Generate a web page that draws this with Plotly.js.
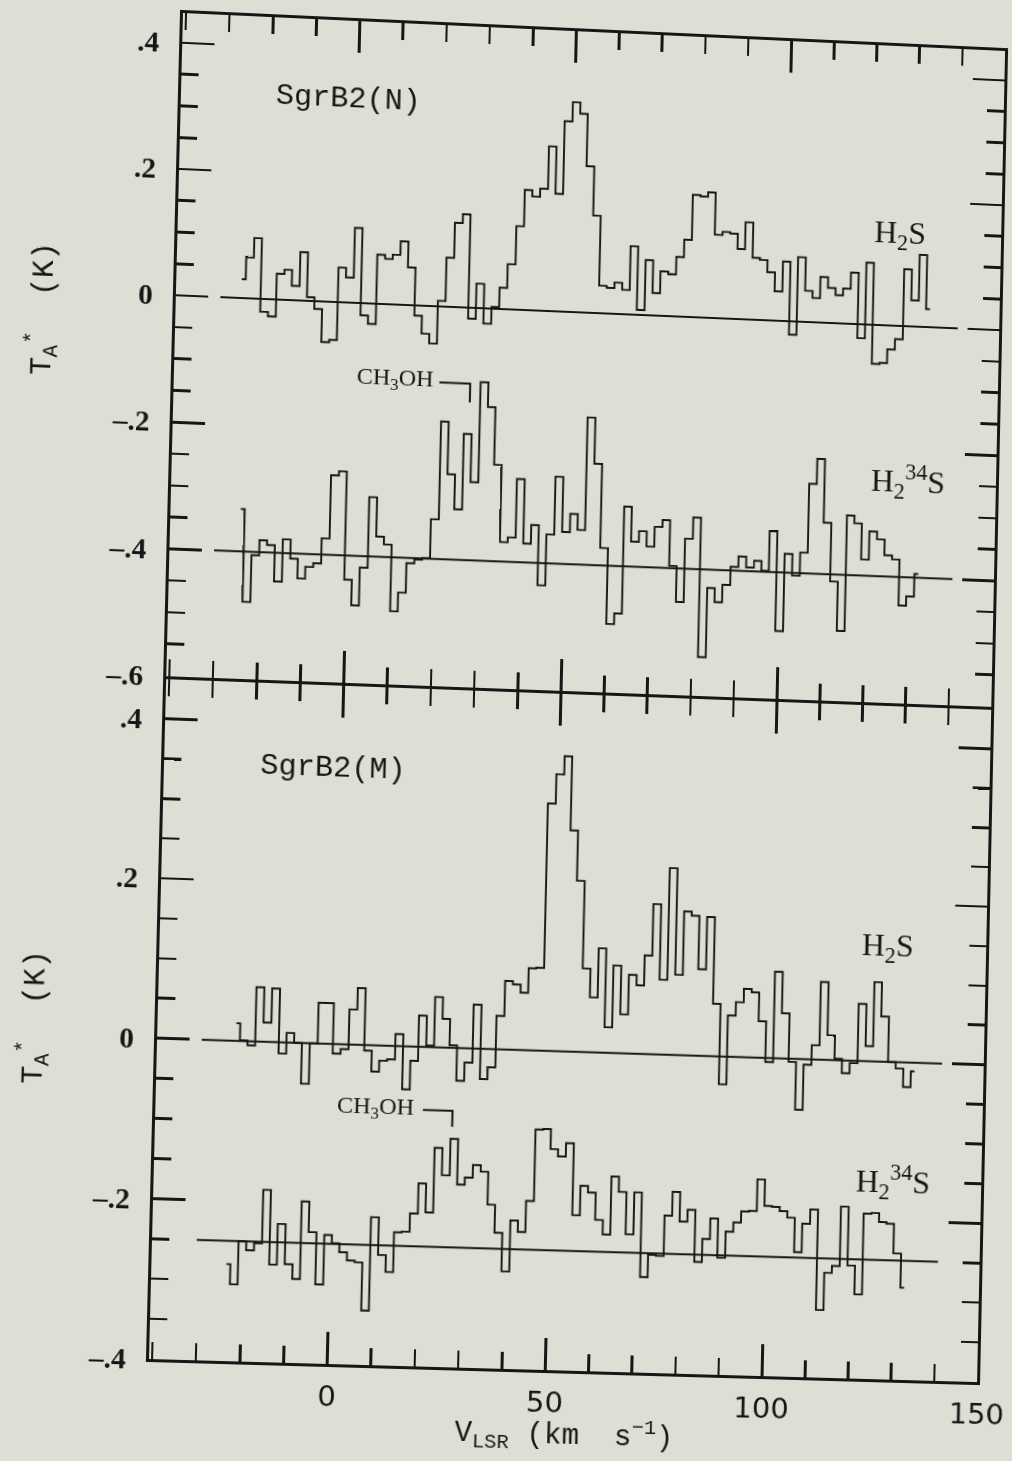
<!DOCTYPE html>
<html>
<head>
<meta charset="utf-8">
<script src="https://cdn.plot.ly/plotly-3.0.1.min.js"></script>
<style>
  html, body { margin:0; padding:0; overflow:hidden; background:#dedfd4; width:1012px; height:1461px; }
  #plot { position:absolute; left:0; top:0; width:1070px; height:1461px; transform-origin:0 0; }
</style>
</head>
<body>
<div id="plot"></div>
<script>
// ---------------- DATA ----------------
// SgrB2(N) H2S spectrum
const velN_H2S = [-25.7,-23.9,-22.2,-20.4,-18.6,-16.8,-15.1,-13.3,-11.5,-9.8,
  -8.0,-6.2,-4.4,-2.7,-0.9,0.9,2.6,4.4,6.2,8.0,
  9.7,11.5,13.3,15.0,16.8,18.6,20.4,22.1,23.9,25.7,
  27.4,29.2,31.0,32.8,34.5,36.3,38.1,39.8,41.6,43.4,
  45.2,46.9,48.7,50.5,52.2,54.0,55.8,57.5,59.3,61.1,
  62.9,64.6,66.4,68.2,69.9,71.7,73.5,75.3,77.0,78.8,
  80.6,82.3,84.1,85.9,87.7,89.4,91.2,93.0,94.7,96.5,
  98.3,100.1,101.8,103.6,105.4,107.1,108.9,110.7,112.5,114.2,
  116.0,117.8,119.5,121.3,123.1,124.8,126.6,128.4,130.2,131.9,133.7];
const tN_H2S = [0.030,0.065,0.096,-0.020,-0.027,0.041,0.048,0.023,0.077,0.006,
  -0.012,-0.064,-0.060,0.055,0.040,0.119,-0.019,-0.032,0.078,0.072,
  0.079,0.101,0.060,-0.016,-0.044,-0.059,0.009,0.078,0.134,0.148,
  -0.017,0.039,-0.024,0.003,0.034,0.072,0.133,0.191,0.181,0.194,
  0.262,0.187,0.303,0.334,0.316,0.233,0.155,0.044,0.041,0.050,
  0.039,0.109,0.008,0.088,0.036,0.071,0.067,0.095,0.123,0.195,
  0.193,0.200,0.133,0.138,0.136,0.112,0.155,0.099,0.096,0.077,
  0.047,0.095,-0.021,0.103,0.050,0.039,0.073,0.056,0.045,0.056,
  0.082,-0.022,0.099,-0.062,-0.060,-0.038,-0.021,0.091,0.042,0.115,0.029];

// SgrB2(N) H2 34S spectrum
const velN_H234S = [-24.6,-22.8,-21.0,-19.3,-17.5,-15.7,-13.9,-12.1,-10.4,-8.6,
  -6.8,-5.0,-3.2,-1.4,0.4,2.1,3.9,5.7,7.5,9.3,
  11.1,12.8,14.6,16.4,18.2,20.0,21.8,23.5,25.3,27.1,
  28.9,30.7,32.5,34.2,36.0,37.8,39.6,41.4,43.1,44.9,
  46.7,48.5,50.3,52.1,53.8,55.6,57.4,59.2,61.0,62.8,
  64.5,66.3,68.1,69.9,71.7,73.5,75.2,77.0,78.8,80.6,
  82.4,84.2,85.9,87.7,89.5,91.3,93.1,94.9,96.6,98.4,
  100.2,102.0,103.8,105.6,107.3,109.1,110.9,112.7,114.5,116.3,
  118.0,119.8,121.6,123.4,125.2,127.0,128.7,130.5,132.3];
const tN_H234S = [-0.333,-0.479,-0.405,-0.381,-0.388,-0.445,-0.378,-0.408,-0.439,-0.420,
  -0.414,-0.374,-0.274,-0.267,-0.438,-0.478,-0.418,-0.306,-0.368,-0.380,
  -0.485,-0.455,-0.408,-0.402,-0.399,-0.337,-0.182,-0.265,-0.320,-0.200,
  -0.276,-0.117,-0.156,-0.247,-0.369,-0.361,-0.268,-0.370,-0.340,-0.435,
  -0.354,-0.262,-0.349,-0.320,-0.345,-0.166,-0.239,-0.372,-0.492,-0.475,
  -0.305,-0.360,-0.343,-0.367,-0.335,-0.324,-0.396,-0.453,-0.352,-0.318,
  -0.539,-0.429,-0.451,-0.423,-0.394,-0.377,-0.394,-0.383,-0.398,-0.335,
  -0.493,-0.370,-0.404,-0.367,-0.257,-0.217,-0.318,-0.411,-0.489,-0.305,
  -0.317,-0.374,-0.329,-0.341,-0.366,-0.372,-0.445,-0.430,-0.394];

// SgrB2(M) H2S spectrum
const velM_H2S = [-22.7,-20.9,-19.2,-17.4,-15.6,-13.8,-12.0,-10.3,-8.5,-6.7,
  -4.9,-3.1,-1.4,0.4,2.2,4.0,5.8,7.6,9.3,11.1,
  12.9,14.7,16.5,18.2,20.0,21.8,23.6,25.4,27.1,28.9,
  30.7,32.5,34.3,36.0,37.8,39.6,41.4,43.2,44.9,46.7,
  48.5,50.3,52.1,53.8,55.6,57.4,59.2,61.0,62.7,64.5,
  66.3,68.1,69.9,71.6,73.4,75.2,77.0,78.8,80.5,82.3,
  84.1,85.9,87.7,89.4,91.2,93.0,94.8,96.6,98.3,100.1,
  101.9,103.7,105.5,107.2,109.0,110.8,112.6,114.4,116.1,117.9,
  119.7,121.5,123.3,125.0,126.8,128.6,130.4,132.2,133.9];
const tM_H2S = [0.022,0.001,-0.005,0.068,0.024,0.067,-0.014,0.012,0.000,-0.051,
  0.000,0.051,0.051,-0.012,-0.006,0.044,0.071,-0.007,-0.033,-0.019,
  -0.017,0.015,-0.054,-0.018,0.039,0.002,0.063,0.036,0.003,-0.041,
  -0.018,0.055,-0.038,-0.023,0.042,0.086,0.082,0.072,0.103,0.104,
  0.311,0.348,0.371,0.278,0.215,0.105,0.069,0.131,0.032,0.110,
  0.049,0.099,0.086,0.124,0.189,0.094,0.235,0.101,0.181,0.176,
  0.109,0.175,0.066,-0.035,0.052,0.069,0.086,0.082,0.046,-0.005,
  0.109,0.057,-0.004,-0.064,-0.007,0.018,0.098,0.031,0.002,-0.016,
  -0.003,0.072,0.019,0.100,0.057,0.000,-0.008,-0.031,-0.011];

// SgrB2(M) H2 34S spectrum
const velM_H234S = [-23.6,-21.8,-20.1,-18.3,-16.5,-14.7,-13.0,-11.2,-9.4,-7.6,
  -5.9,-4.1,-2.3,-0.5,1.2,3.0,4.8,6.6,8.3,10.1,
  11.9,13.7,15.4,17.2,19.0,20.8,22.5,24.3,26.1,27.9,
  29.6,31.4,33.2,35.0,36.7,38.5,40.3,42.1,43.8,45.6,
  47.4,49.2,50.9,52.7,54.5,56.3,58.0,59.8,61.6,63.4,
  65.1,66.9,68.7,70.5,72.2,74.0,75.8,77.6,79.3,81.1,
  82.9,84.7,86.4,88.2,90.0,91.8,93.5,95.3,97.1,98.9,
  100.6,102.4,104.2,106.0,107.7,109.5,111.3,113.1,114.8,116.6,
  118.4,120.2,121.9,123.7,125.5,127.3,129.0,130.8,132.6];
const tM_H234S = [-0.279,-0.304,-0.250,-0.261,-0.252,-0.185,-0.278,-0.227,-0.277,-0.295,
  -0.198,-0.236,-0.301,-0.239,-0.249,-0.260,-0.270,-0.272,-0.332,-0.215,
  -0.262,-0.283,-0.233,-0.232,-0.209,-0.171,-0.207,-0.126,-0.160,-0.114,
  -0.171,-0.162,-0.146,-0.154,-0.195,-0.230,-0.278,-0.214,-0.228,-0.189,
  -0.099,-0.098,-0.123,-0.132,-0.115,-0.205,-0.168,-0.176,-0.210,-0.228,
  -0.155,-0.174,-0.227,-0.174,-0.280,-0.252,-0.253,-0.202,-0.172,-0.209,
  -0.194,-0.259,-0.230,-0.204,-0.253,-0.220,-0.208,-0.194,-0.193,-0.153,
  -0.186,-0.187,-0.192,-0.200,-0.243,-0.207,-0.189,-0.315,-0.268,-0.259,
  -0.184,-0.258,-0.294,-0.192,-0.191,-0.202,-0.204,-0.241,-0.284];

// Baselines
const baseVel = [-30.5, 140.3];
const baseN_H2S = [0, 0];
const baseN_H234S = [-0.4, -0.4];
const baseM_H2S = [0, 0];
const baseM_H234S = [-0.25, -0.25];

// CH3OH markers (bracket)
const ch3ohN_v = [20.3, 27.4, 27.4];
const ch3ohN_t = [-0.120, -0.120, -0.150];
const ch3ohM_v = [20.5, 27.3, 27.3];
const ch3ohM_t = [-0.079, -0.079, -0.099];

// Tick labels
const yTopVals = [-0.6, -0.4, -0.2, 0, 0.2, 0.4];
const yTopText = ['\u2013.6', '\u2013.4', '\u2013.2', '0', '.2', '.4'];
const yBotVals = [-0.4, -0.2, 0, 0.2, 0.4];
const yBotText = ['\u2013.4', '\u2013.2', '0', '.2', '.4'];

// ---------------- STYLE ----------------
const ink = '#161616';
const bg = '#dedfd4';

function spec(x, y, xa, ya) {
  return { x, y, xaxis: xa, yaxis: ya, type: 'scatter', mode: 'lines',
    line: { shape: 'hvh', color: ink, width: 1.9 }, hoverinfo: 'skip' };
}
function base(x, y, xa, ya) {
  return { x, y, xaxis: xa, yaxis: ya, type: 'scatter', mode: 'lines',
    line: { color: ink, width: 2 }, hoverinfo: 'skip' };
}

const data = [
  base(baseVel, baseN_H2S, 'x', 'y'),
  base(baseVel, baseN_H234S, 'x', 'y'),
  base(baseVel, baseM_H2S, 'x2', 'y2'),
  base(baseVel, baseM_H234S, 'x2', 'y2'),
  spec(velN_H2S, tN_H2S, 'x', 'y'),
  spec(velN_H234S, tN_H234S, 'x', 'y'),
  spec(velM_H2S, tM_H2S, 'x2', 'y2'),
  spec(velM_H234S, tM_H234S, 'x2', 'y2'),
  base(ch3ohN_v, ch3ohN_t, 'x', 'y'),
  base(ch3ohM_v, ch3ohM_t, 'x2', 'y2')
];

const xCommon = {
  range: [-40.7, 150], showgrid: false, zeroline: false,
  showline: true, linecolor: ink, linewidth: 3, mirror: 'ticks',
  ticks: 'inside', tickmode: 'linear', tick0: 0, dtick: 50,
  ticklen: 32, tickwidth: 2.6, tickcolor: ink,
  minor: { ticks: 'inside', tickmode: 'linear', tick0: 0, dtick: 10, ticklen: 17, tickwidth: 2.6, tickcolor: ink, showgrid: false }
};
const yCommon = {
  showgrid: false, zeroline: false,
  showline: true, linecolor: ink, linewidth: 3, mirror: 'ticks',
  ticks: 'inside', tickmode: 'array', ticklen: 32, tickwidth: 2.6, tickcolor: ink,
  ticklabelstandoff: 14,
  tickfont: { family: 'Liberation Serif', size: 29, color: ink, weight: 'bold' },
  minor: { ticks: 'inside', tickmode: 'linear', tick0: 0, dtick: 0.05, ticklen: 17, tickwidth: 2.6, tickcolor: ink, showgrid: false }
};

// the two panels share one 3px line at the junction (Y = 680 px)
const topLow = (1360 - 678.5) / 1347;
const botHigh = (1360 - 681.5) / 1347;
const monoFont = (s) => ({ family: 'Liberation Mono', size: s, color: ink });
const serifFont = (s) => ({ family: 'Liberation Serif', size: s, color: ink });

const layout = {
  width: 1070, height: 1461,
  margin: { l: 183, r: 64, t: 13, b: 101, pad: 0 },
  paper_bgcolor: bg, plot_bgcolor: bg,
  showlegend: false,
  xaxis: Object.assign({}, xCommon, { domain: [0, 1], anchor: 'y', showticklabels: false }),
  xaxis2: Object.assign({}, xCommon, { domain: [0, 1], anchor: 'y2', matches: 'x', showticklabels: true,
    ticklabelstandoff: 4, ticklabeloverflow: 'allow',
    tickfont: { family: 'DejaVu Sans', size: 29, color: ink } }),
  yaxis: Object.assign({}, yCommon, { domain: [topLow, 1], anchor: 'x', range: [-0.6, 0.447],
    tickvals: yTopVals, ticktext: yTopText }),
  yaxis2: Object.assign({}, yCommon, { domain: [0, botHigh], anchor: 'x2', range: [-0.4, 0.45],
    tickvals: yBotVals, ticktext: yBotText }),
  annotations: [
    { xref: 'x', yref: 'y', x: -2.2, y: 0.323, text: 'SgrB2(N)', showarrow: false, font: monoFont(30), xanchor: 'center', yanchor: 'middle' },
    { xref: 'x2', yref: 'y2', x: -2.0, y: 0.346, text: 'SgrB2(M)', showarrow: false, font: monoFont(30), xanchor: 'center', yanchor: 'middle' },
    { xref: 'x', yref: 'y', x: 126.4, y: 0.146, text: 'H<sub>2</sub>S', showarrow: false, font: serifFont(32), xanchor: 'center', yanchor: 'middle' },
    { xref: 'x', yref: 'y', x: 129.4, y: -0.248, text: 'H<sub>2</sub><sup>34</sup>S', showarrow: false, font: serifFont(32), xanchor: 'center', yanchor: 'middle' },
    { xref: 'x2', yref: 'y2', x: 127.0, y: 0.144, text: 'H<sub>2</sub>S', showarrow: false, font: serifFont(32), xanchor: 'center', yanchor: 'middle' },
    { xref: 'x2', yref: 'y2', x: 129.4, y: -0.151, text: 'H<sub>2</sub><sup>34</sup>S', showarrow: false, font: serifFont(32), xanchor: 'center', yanchor: 'middle' },
    { xref: 'x', yref: 'y', x: 19.3, y: -0.118, text: 'CH<sub>3</sub>OH', showarrow: false, font: serifFont(24), xanchor: 'right', yanchor: 'middle' },
    { xref: 'x2', yref: 'y2', x: 18.9, y: -0.078, text: 'CH<sub>3</sub>OH', showarrow: false, font: serifFont(24), xanchor: 'right', yanchor: 'middle' },
    { xref: 'paper', yref: 'paper', x: -0.1586, y: 0.775, text: 'T<sub>A</sub><sup>*</sup>\u00a0\u00a0(K)', textangle: -90, showarrow: false, font: monoFont(30), xanchor: 'center', yanchor: 'middle' },
    { xref: 'paper', yref: 'paper', x: -0.147, y: 0.2494, text: 'T<sub>A</sub><sup>*</sup>\u00a0\u00a0(K)', textangle: -90, showarrow: false, font: monoFont(30), xanchor: 'center', yanchor: 'middle' },
    { xref: 'paper', yref: 'paper', x: 0.5006, y: -0.0479, text: 'V<sub>LSR</sub> (km\u00a0 s<sup>\u22121</sup>)', showarrow: false, font: monoFont(29), xanchor: 'center', yanchor: 'middle' }
  ]
};

// Page-scan geometry: map the flat plot frame onto the slightly tilted scanned frame
function homography(src, dst) {
  const A = [], b = [];
  for (let i = 0; i < 4; i++) {
    const [x, y] = src[i], [u, v] = dst[i];
    A.push([x, y, 1, 0, 0, 0, -x * u, -y * u]); b.push(u);
    A.push([0, 0, 0, x, y, 1, -x * v, -y * v]); b.push(v);
  }
  const n = 8;
  for (let c = 0; c < n; c++) {
    let p = c;
    for (let r = c + 1; r < n; r++) if (Math.abs(A[r][c]) > Math.abs(A[p][c])) p = r;
    [A[c], A[p]] = [A[p], A[c]]; [b[c], b[p]] = [b[p], b[c]];
    for (let r = 0; r < n; r++) {
      if (r === c) continue;
      const f = A[r][c] / A[c][c];
      for (let k = c; k < n; k++) A[r][k] -= f * A[c][k];
      b[r] -= f * b[c];
    }
  }
  return b.map((v, i) => v / A[i][i]);
}
const frameSrc = [[183, 13], [1006, 13], [1006, 1360], [183, 1360]];
const frameDst = [[183, 13], [1005, 51], [977, 1382], [149, 1359]];
const h = homography(frameSrc, frameDst);
document.getElementById('plot').style.transform =
  `matrix3d(${h[0]},${h[3]},0,${h[6]},${h[1]},${h[4]},0,${h[7]},0,0,1,0,${h[2]},${h[5]},0,1)`;

Plotly.newPlot('plot', data, layout, { displayModeBar: false, staticPlot: true });
</script>
</body>
</html>
